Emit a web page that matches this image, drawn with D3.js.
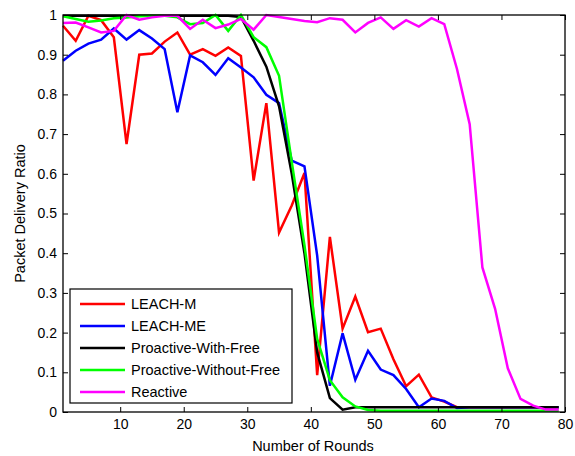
<!DOCTYPE html>
<html>
<head>
<meta charset="utf-8">
<style>
  body { margin: 0; background: #fff; }
  svg { font-family: Arial, "Liberation Sans", sans-serif; }
</style>
</head>
<body>
<div id="chart"></div>
<script src="https://d3js.org/d3.v7.min.js"></script>
<script>
  // rounds sampled every 2
  const rounds = [1, 3, 5, 7, 9, 11, 13, 15, 17, 19, 21, 23, 25, 27, 29, 31, 33, 35, 37, 39,
                  41, 43, 45, 47, 49, 51, 53, 55, 57, 59, 61, 63, 65, 67, 69, 71, 73, 75, 77, 79];

  const leachM = [0.973, 0.935, 0.998, 0.987, 0.944, 0.675, 0.900, 0.903, 0.933, 0.956,
                  0.900, 0.914, 0.897, 0.918, 0.897, 0.583, 0.778, 0.452, 0.520, 0.602,
                  0.093, 0.441, 0.210, 0.291, 0.201, 0.210, 0.133, 0.065, 0.094, 0.037,
                  0.026, 0.012, 0.012, 0.012, 0.012, 0.012, 0.012, 0.012, 0.012, 0.012];
  const leachME = [0.885, 0.910, 0.928, 0.938, 0.966, 0.938, 0.962, 0.941, 0.914, 0.755,
                   0.898, 0.881, 0.849, 0.891, 0.868, 0.843, 0.799, 0.778, 0.633, 0.619,
                   0.394, 0.066, 0.198, 0.081, 0.154, 0.107, 0.093, 0.058, 0.012, 0.034,
                   0.028, 0.010, 0.012, 0.012, 0.012, 0.012, 0.012, 0.012, 0.012, 0.012];
  const proWithFree = [0.998, 0.998, 0.998, 0.998, 0.998, 0.998, 0.998, 0.998, 0.998, 0.998,
                       0.998, 0.998, 0.998, 0.998, 0.995, 0.935, 0.870, 0.770, 0.600, 0.400,
                       0.150, 0.035, 0.006, 0.012, 0.012, 0.012, 0.012, 0.012, 0.012, 0.012,
                       0.012, 0.012, 0.012, 0.012, 0.012, 0.012, 0.012, 0.012, 0.012, 0.012];
  const proWithoutFree = [0.997, 0.990, 0.983, 0.986, 0.992, 0.994, 0.997, 0.998, 0.998, 0.994,
                          0.977, 0.980, 1.000, 0.960, 1.000, 0.944, 0.919, 0.847, 0.630, 0.420,
                          0.184, 0.080, 0.037, 0.014, 0.005, 0.003, 0.003, 0.003, 0.003, 0.003,
                          0.003, 0.003, 0.003, 0.003, 0.003, 0.003, 0.003, 0.003, 0.003, 0.003];
  const reactive = [0.980, 0.981, 0.969, 0.956, 0.960, 1.000, 0.988, 0.994, 0.998, 0.998,
                    0.965, 0.988, 0.967, 0.976, 0.990, 0.963, 1.000, 0.995, 0.990, 0.985,
                    0.982, 0.992, 0.988, 0.956, 0.980, 0.994, 0.965, 0.987, 0.971, 0.992,
                    0.977, 0.864, 0.725, 0.364, 0.260, 0.110, 0.033, 0.016, 0.006, 0.006];

  const seriesNames = ["LEACH-M", "LEACH-ME", "Proactive-With-Free", "Proactive-Without-Free", "Reactive"];
  const seriesValues = [leachM, leachME, proWithFree, proWithoutFree, reactive];
  const colors = ["#ff0000", "#0000ff", "#000000", "#00ff00", "#ff00ff"];

  const xTicks = [10, 20, 30, 40, 50, 60, 70, 80];
  const yTicks = [0, 0.1, 0.2, 0.3, 0.4, 0.5, 0.6, 0.7, 0.8, 0.9, 1];

  const W = 575, H = 456;
  const margin = { top: 15, right: 10, bottom: 44, left: 63 },
        width = 565 - margin.left,
        height = 412 - margin.top;

  const svg = d3.select("#chart").append("svg")
    .attr("width", W)
    .attr("height", H);

  const g = svg.append("g").attr("transform", `translate(${margin.left},${margin.top})`);

  const x = d3.scaleLinear().domain([1, 80]).range([0, width]);
  const y = d3.scaleLinear().domain([0, 1]).range([height, 0]);

  // lines
  const line = d3.line().x((d, i) => x(rounds[i])).y(d => y(d));
  seriesValues.forEach((vals, k) => {
    g.append("path")
      .datum(vals)
      .attr("fill", "none")
      .attr("stroke", colors[k])
      .attr("stroke-width", 2.5)
      .attr("stroke-linejoin", "miter")
      .attr("d", line);
  });

  // axes, MATLAB style inward ticks
  const fmtY = d => d3.format("~g")(d);
  const ax = (sel) => sel.selectAll(".domain").remove();

  g.append("g").attr("transform", `translate(0,${height})`)
    .call(d3.axisBottom(x).tickValues(xTicks).tickSize(-5).tickPadding(7))
    .call(ax)
    .call(s => s.selectAll("text").style("font-size", "14px").attr("fill", "#000"));
  g.append("g")
    .call(d3.axisTop(x).tickValues(xTicks).tickSize(-5).tickFormat(""))
    .call(ax);
  g.append("g")
    .call(d3.axisLeft(y).tickValues(yTicks).tickSize(-5).tickPadding(6).tickFormat(fmtY))
    .call(ax)
    .call(s => s.selectAll("text").style("font-size", "14px").attr("fill", "#000"));
  g.append("g").attr("transform", `translate(${width},0)`)
    .call(d3.axisRight(y).tickValues(yTicks).tickSize(-5).tickFormat(""))
    .call(ax);
  g.selectAll(".tick line").attr("stroke", "#000");

  g.append("rect")
    .attr("width", width).attr("height", height)
    .attr("fill", "none").attr("stroke", "#000").attr("stroke-width", 1.3);

  // axis titles
  svg.append("text")
    .attr("x", 313).attr("y", 451)
    .attr("text-anchor", "middle").style("font-size", "14.5px")
    .text("Number of Rounds");
  svg.append("text")
    .attr("transform", `translate(25,${margin.top + height / 2}) rotate(-90)`)
    .attr("text-anchor", "middle").style("font-size", "14.5px")
    .text("Packet Delivery Ratio");

  // legend
  const lg = svg.append("g").attr("transform", "translate(70,289)");
  lg.append("rect").attr("width", 222).attr("height", 114)
    .attr("fill", "#fff").attr("stroke", "#000").attr("stroke-width", 1.2);
  seriesNames.forEach((name, k) => {
    const yy = 15 + k * 22;
    lg.append("line").attr("x1", 10).attr("x2", 55).attr("y1", yy).attr("y2", yy)
      .attr("stroke", colors[k]).attr("stroke-width", 2.5);
    lg.append("text").attr("x", 61).attr("y", yy + 5)
      .style("font-size", "14.5px").text(name);
  });
</script>
</body>
</html>
